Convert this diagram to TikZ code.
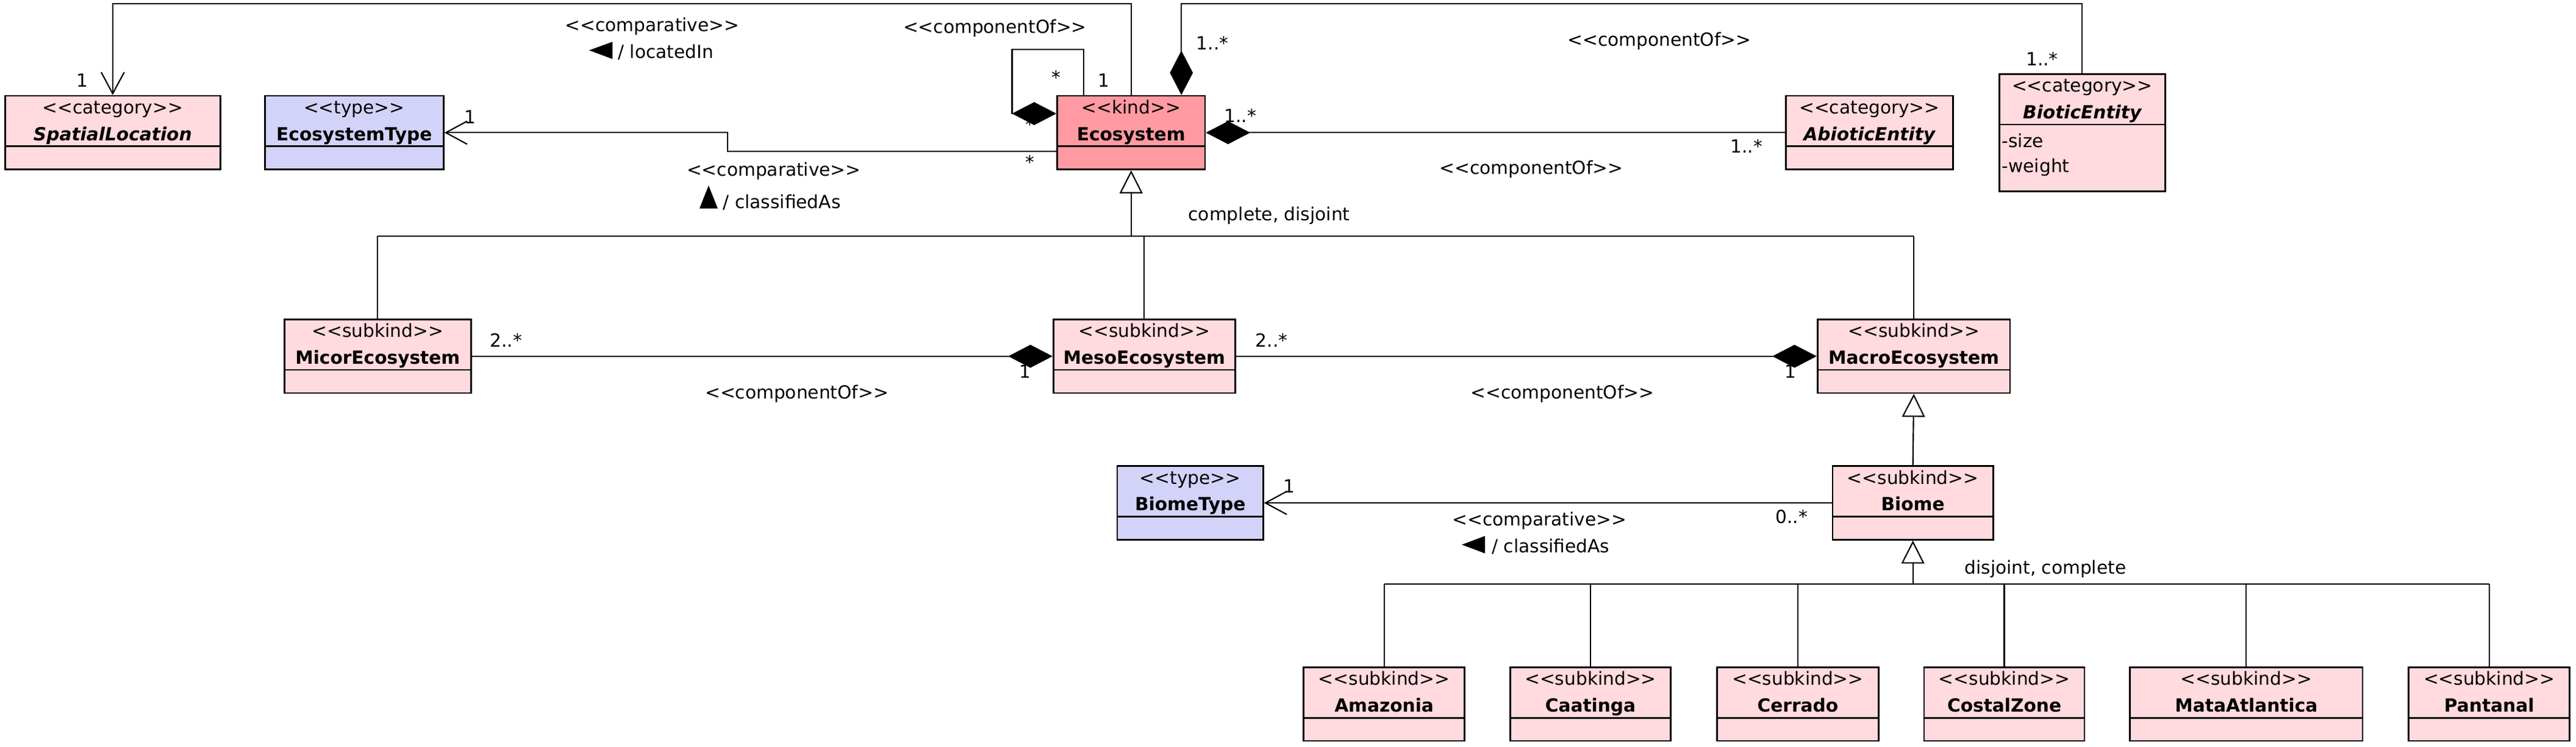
\documentclass[tikz,border=0pt]{standalone}
\usepackage{fontspec}
\setmainfont{DejaVu Sans}
\usetikzlibrary{arrows.meta}
\definecolor{kindPink}{RGB}{255,154,162}
\definecolor{lightPink}{RGB}{255,218,222}
\definecolor{typeBlue}{RGB}{211,211,250}
\newcommand{\labelfont}{\fontsize{11}{13}\selectfont}
\newcommand{\stype}[1]{<\kern0pt<#1>\kern0pt>}
\tikzset{
    cls/.style={draw, line width=1pt, fill=lightPink, minimum height=44.8pt, inner sep=0pt, anchor=north west},
    kindcls/.style={cls, fill=kindPink},
    typecls/.style={cls, fill=typeBlue},
    stereo/.style={anchor=base, inner sep=0pt},
    clsname/.style={anchor=base, inner sep=0pt, font=\labelfont\bfseries},
    attr/.style={anchor=base west, inner sep=0pt},
    lbl/.style={inner sep=0pt},
    dirtext/.style={anchor=base west, inner sep=0pt},
    assoc/.style={line width=.8pt},
    navig/.style={assoc, -{Straight Barb[length=13pt, width=14pt]}},
    compos/.style={assoc, -{Diamond[length=27pt, width=14pt]}},
    gen/.style={assoc, -{Triangle[length=14pt, width=14pt, fill=white]}}
}
\newcommand{\umlclass}[6][cls]{%
    \node[#1, minimum width=#4pt] (#2) at (#3) {};
    \draw[line width=1pt] ([yshift=-31.2pt]#2.north west) -- ([yshift=-31.2pt]#2.north east);
    \node[stereo] at ([yshift=-11.4pt]#2.north) {\stype{#5}};
    \node[clsname] at ([yshift=-27.7pt]#2.north) {#6};
}
\begin{document}
\begin{tikzpicture}[x=1pt, y=-1pt, font=\labelfont]
    \useasboundingbox (0,0) rectangle (1568,454.35);
    \umlclass{spatial}{2.6,57.8}{131}{category}{\itshape SpatialLocation}
    \umlclass[typecls]{ecotype}{160.7,57.8}{108.8}{type}{EcosystemType}
    \umlclass[kindcls]{eco}{643,57.8}{90}{kind}{Ecosystem}
    \umlclass{abiotic}{1086.5,57.8}{101.8}{category}{\itshape AbioticEntity}
    \umlclass[cls, minimum height=71.4pt]{biotic}{1216.4,44.5}{101}{category}{\itshape BioticEntity}
    \node[attr] at ([xshift=2pt, yshift=-45.2pt]biotic.north west) {-size};
    \node[attr] at ([xshift=2pt, yshift=-60.5pt]biotic.north west) {-weight};
    \umlclass{micro}{172.6,193.8}{113.6}{subkind}{MicorEcosystem}
    \umlclass{meso}{640.7,193.8}{110.6}{subkind}{MesoEcosystem}
    \umlclass{macro}{1105.8,193.8}{117.2}{subkind}{MacroEcosystem}
    \umlclass[typecls]{biometype}{679.6,283}{88.8}{type}{BiomeType}
    \umlclass{biome}{1115,283}{97.7}{subkind}{Biome}
    \umlclass{amazonia}{793,405.4}{98}{subkind}{Amazonia}
    \umlclass{caatinga}{918.8,405.4}{97.6}{subkind}{Caatinga}
    \umlclass{cerrado}{1044.6,405.4}{98.4}{subkind}{Cerrado}
    \umlclass{costal}{1170.7,405.4}{97.6}{subkind}{CostalZone}
    \umlclass{mata}{1296,405.4}{141.6}{subkind}{MataAtlantica}
    \umlclass{pantanal}{1465.7,405.4}{97.9}{subkind}{Pantanal}

    \coordinate (topline) at (0,2.2);
    \coordinate (busA) at (0,143.8);
    \coordinate (busB) at (0,355.3);
    \coordinate (ecoTL) at ([xshift=-29pt]eco.north);
    \coordinate (ecoTR) at ([xshift=30.6pt]eco.north);

    \draw[navig] (eco.north) -- (eco.north |- topline) -- (spatial.north |- topline) -- (spatial.north);
    \draw[navig] ([yshift=-11.3pt]eco.west) -- ++(-200,0) |- (ecotype.east);
    \draw[compos] (ecoTL) |- (616,30) |- ([yshift=11.6pt]eco.west);
    \draw[compos] (biotic.north) |- (ecoTR |- topline) -- (ecoTR);
    \draw[compos] (abiotic.west) -- (eco.east);
    \draw[gen] (eco.south |- busA) -- (eco.south);
    \draw[assoc] (micro.north |- busA) -- (macro.north |- busA);
    \foreach \c in {micro,meso,macro}
        \draw[assoc] (\c.north |- busA) -- (\c.north);
    \draw[compos] (micro.east) -- (meso.west);
    \draw[compos] (meso.east) -- (macro.west);
    \draw[gen] (biome.north) -- (macro.south);
    \draw[navig] (biome.west) -- (biometype.east);
    \draw[gen] (biome.south |- busB) -- (biome.south);
    \draw[assoc] (amazonia.north |- busB) -- (pantanal.north |- busB);
    \foreach \c in {amazonia,caatinga,cerrado,costal,mata,pantanal}
        \draw[assoc] (\c.north |- busB) -- (\c.north);

    \node[lbl] at (50,49) {1};
    \node[lbl] at (397,16) {\stype{comparative}};
    \fill (358.6,30.6) -- (372.8,25.4) -- (372.8,35.9) -- cycle;
    \node[dirtext] at (376,35.5) {/ locatedIn};
    \node[lbl] at (605.6,17.3) {\stype{componentOf}};
    \node[lbl] at (643,47) {*};
    \node[lbl] at (672,49) {1};
    \node[lbl] at (627,75.5) {*};
    \node[lbl] at (286,71) {1};
    \node[lbl] at (627,98.4) {*};
    \node[lbl] at (471,104) {\stype{comparative}};
    \fill (431.3,112.8) -- (436.9,126.8) -- (425.8,126.8) -- cycle;
    \node[dirtext] at (440,126.8) {/ classifiedAs};
    \node[lbl] at (738,26) {1..*};
    \node[lbl] at (1010,25) {\stype{componentOf}};
    \node[lbl] at (755,70.5) {1..*};
    \node[lbl] at (1063,89) {1..*};
    \node[lbl] at (932,103) {\stype{componentOf}};
    \node[lbl] at (1243,36) {1..*};
    \node[lbl] at (772.5,131) {complete, disjoint};
    \node[lbl] at (308,207) {2..*};
    \node[lbl] at (624,226) {1};
    \node[lbl] at (485,239.4) {\stype{componentOf}};
    \node[lbl] at (774,207) {2..*};
    \node[lbl] at (1090,226) {1};
    \node[lbl] at (951,239.4) {\stype{componentOf}};
    \node[lbl] at (784.7,295.8) {1};
    \node[lbl] at (1090.6,314.3) {0..*};
    \node[lbl] at (937,316.7) {\stype{comparative}};
    \fill (889.8,331.3) -- (903.9,326) -- (903.9,336.6) -- cycle;
    \node[dirtext] at (908,336.2) {/ classifiedAs};
    \node[lbl] at (1245,346) {disjoint, complete};
\end{tikzpicture}
\end{document}
